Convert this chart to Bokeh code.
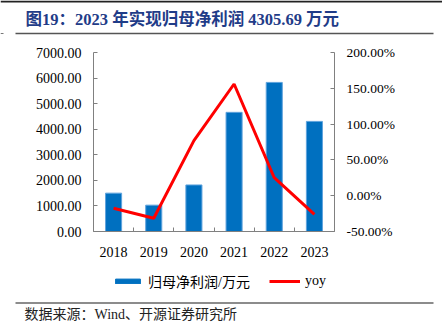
from bokeh.plotting import figure
from bokeh.layouts import column
from bokeh.models import (Range1d, LinearAxis, FixedTicker, PrintfTickFormatter,
                          Legend, LegendItem, Label)
from bokeh.embed import file_html
from bokeh.resources import INLINE

# ---- data ----
years = ["2018", "2019", "2020", "2021", "2022", "2023"]
profit = [1500, 1030, 1820, 4660, 5830, 4305.69]          # 归母净利润/万元
yoy = [-17.5, -31.5, 77.0, 156.0, 25.1, -26.1]            # yoy, %
left_ticks = [0, 1000, 2000, 3000, 4000, 5000, 6000, 7000]
right_ticks = [-50, 0, 50, 100, 150, 200]
title_text = "图19：2023 年实现归母净利润 4305.69 万元"
source_text = "数据来源：Wind、开源证券研究所"
bar_label = "归母净利润/万元"
line_label = "yoy"

xs = list(range(len(years)))
bounds = [i - 0.5 for i in range(len(years) + 1)]

SERIF = "'Liberation Serif', 'Noto Sans CJK SC'"
AXIS_GRAY = "#808080"
BAR_FILL = "#0070C0"
BAR_EDGE = "#5FA3DD"
RED = "#FF0000"

W = 442
H_HEAD = 42
H_MAIN = 220
H_FOOT = 331 - H_HEAD - H_MAIN
FOOT_TOP = H_HEAD + H_MAIN


def blank_fig(h):
    f = figure(width=W, height=h, output_backend="svg", toolbar_location=None,
               x_range=Range1d(0, W), y_range=Range1d(h, 0),
               x_axis_location=None, y_axis_location=None,
               min_border=0, min_border_left=0, min_border_right=0,
               min_border_top=0, min_border_bottom=0)
    f.frame_align = False
    f.title.visible = False
    f.outline_line_color = None
    f.xgrid.visible = False
    f.ygrid.visible = False
    f.background_fill_color = "white"
    f.border_fill_color = "white"
    return f


# ---------------- header ----------------
head = blank_fig(H_HEAD)
head.segment(x0=[0], y0=[1], x1=[W], y1=[1], line_color="#222222", line_width=2)
head.segment(x0=[15], y0=[33], x1=[433], y1=[33], line_color="#555555", line_width=1.5)
head.segment(x0=[0], y0=[33], x1=[3], y1=[33], line_color="#777777", line_width=1)
head.add_layout(Label(x=25, y=19, text=title_text, text_baseline="middle",
                      text_font=SERIF, text_font_style="bold",
                      text_font_size="16.5px", text_color="#1F3C88"))

# ---------------- main chart ----------------
p = figure(width=W, height=H_MAIN, output_backend="svg", toolbar_location=None,
           x_range=Range1d(-0.5, len(years) - 0.5), y_range=Range1d(0, 7000),
           min_border_left=93, min_border_right=108, min_border_top=10,
           min_border_bottom=31)
p.frame_align = False
p.title.visible = False
p.outline_line_color = None
p.xgrid.visible = False
p.ygrid.visible = False
p.background_fill_color = "white"
p.border_fill_color = "white"

p.extra_y_ranges = {"yoy": Range1d(-50, 200)}

p.vbar(x=xs, top=profit, width=0.4, fill_color=BAR_FILL,
       line_color=BAR_EDGE, line_width=1)
p.line(x=xs, y=yoy, y_range_name="yoy", line_color=RED, line_width=3)

xa = p.xaxis[0]
xa.ticker = FixedTicker(ticks=xs, minor_ticks=bounds)
xa.major_label_overrides = {i: y for i, y in zip(xs, years)}
xa.major_tick_line_color = None
xa.minor_tick_in = 4
xa.minor_tick_out = 0
xa.minor_tick_line_color = AXIS_GRAY
xa.axis_line_color = AXIS_GRAY
xa.major_label_standoff = 9
xa.major_label_text_font = SERIF
xa.major_label_text_font_size = "14px"
xa.major_label_text_color = "#000000"

ya = p.yaxis[0]
ya.ticker = FixedTicker(ticks=left_ticks)
ya.formatter = PrintfTickFormatter(format="%.2f")
ya.minor_tick_line_color = None
ya.major_tick_in = 4
ya.major_tick_out = 0
ya.major_tick_line_color = AXIS_GRAY
ya.axis_line_color = AXIS_GRAY
ya.major_label_standoff = 12
ya.major_label_text_font = SERIF
ya.major_label_text_font_size = "14px"
ya.major_label_text_color = "#000000"

ra = LinearAxis(y_range_name="yoy", ticker=FixedTicker(ticks=right_ticks),
                formatter=PrintfTickFormatter(format="%.2f%%"))
ra.minor_tick_line_color = None
ra.major_tick_in = 4
ra.major_tick_out = 0
ra.major_tick_line_color = AXIS_GRAY
ra.axis_line_color = AXIS_GRAY
ra.major_label_standoff = 12
ra.major_label_text_font = SERIF
ra.major_label_text_font_size = "13.5px"
ra.major_label_text_color = "#000000"
p.add_layout(ra, "right")

# ---------------- footer (legend + source) ----------------
foot = blank_fig(H_FOOT)
# legend swatches: same series, placed on ranges that keep them out of view
foot.extra_x_ranges = {"swatch": Range1d(-20000, -10000)}
foot.extra_y_ranges = {"swatch": Range1d(-20000, -10000)}
lb = foot.vbar(x=xs, top=profit, bottom=profit, width=0.4,
               x_range_name="swatch", y_range_name="swatch",
               fill_color=BAR_FILL, line_color=BAR_FILL)
ll = foot.line(x=xs, y=yoy, x_range_name="swatch", y_range_name="swatch",
               line_color=RED, line_width=3)
legend = Legend(items=[LegendItem(label=bar_label, renderers=[lb]),
                       LegendItem(label=line_label, renderers=[ll])],
                orientation="horizontal", location=(112, H_FOOT - 29),
                glyph_width=31, glyph_height=6, label_height=16,
                label_standoff=5, spacing=19, padding=0, margin=0,
                border_line_color=None, background_fill_alpha=0,
                label_text_font=SERIF, label_text_font_size="14px",
                label_text_color="#000000")
foot.add_layout(legend)
foot.segment(x0=[15], y0=[302.5 - FOOT_TOP], x1=[433], y1=[302.5 - FOOT_TOP],
             line_color="#666666", line_width=1.5)
foot.add_layout(Label(x=24, y=314 - FOOT_TOP, text=source_text, text_baseline="middle",
                      text_font=SERIF, text_font_size="14px", text_color="#222222"))

layout = column(head, p, foot, spacing=0)
open("out.html", "w").write(file_html(layout, INLINE))
